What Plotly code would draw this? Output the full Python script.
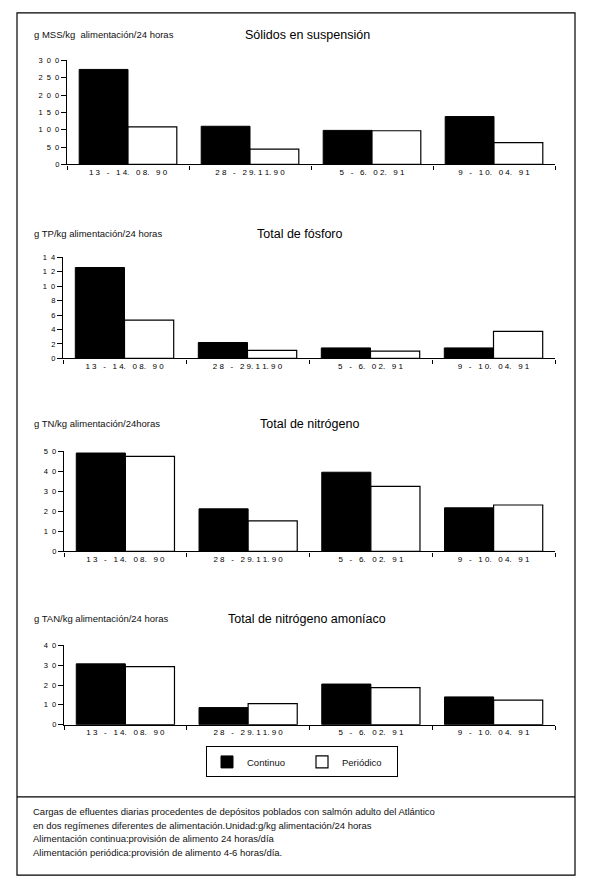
import plotly.graph_objects as go

# ---------------- data ----------------
categories = ["13 - 14.08.90", "28 - 29.11.90", "5 - 6.02.91", "9 - 10.04.91"]
category_labels = ["1 3   -   1 4.   0 8.   9 0", "2 8   -   2 9. 1 1. 9 0",
                   "5   -   6.   0 2.   9 1", "9   -   1 0.   0 4.   9 1"]

series_names = ["Continuo", "Periódico"]

mss_continuo = [274, 110, 98, 138]
mss_periodico = [108, 44, 97, 63]

tp_continuo = [12.6, 2.2, 1.45, 1.45]
tp_periodico = [5.3, 1.1, 1.0, 3.75]

tn_continuo = [49.2, 21.3, 39.6, 21.8]
tn_periodico = [47.5, 15.3, 32.5, 23.2]

tan_continuo = [30.7, 8.6, 20.5, 14.0]
tan_periodico = [29.3, 10.6, 18.7, 12.4]

panel_titles = ["Sólidos en suspensión", "Total de fósforo",
                "Total de nitrógeno", "Total de nitrógeno amoníaco"]
panel_units = ["g MSS/kg  alimentación/24 horas", "g TP/kg alimentación/24 horas",
               "g TN/kg alimentación/24horas", "g TAN/kg alimentación/24 horas"]

mss_ticks = [0, 50, 100, 150, 200, 250, 300]
mss_ticktext = ["0", "5  0", "1  0  0", "1  5  0", "2  0  0", "2  5  0", "3  0  0"]
tp_ticks = [0, 2, 4, 6, 8, 10, 12, 14]
tp_ticktext = ["0", "2", "4", "6", "8", "1  0", "1  2", "1  4"]
tn_ticks = [0, 10, 20, 30, 40, 50]
tn_ticktext = ["0", "1  0", "2  0", "3  0", "4  0", "5  0"]
tan_ticks = [0, 10, 20, 30, 40]
tan_ticktext = ["0", "1  0", "2  0", "3  0", "4  0"]

caption_lines = [
    "Cargas de efluentes diarias procedentes de depósitos poblados con salmón adulto del Atlántico",
    "en dos regímenes diferentes de alimentación.Unidad:g/kg alimentación/24 horas",
    "Alimentación continua:provisión de alimento 24 horas/día",
    "Alimentación periódica:provisión de alimento 4-6 horas/día.",
]

# ---------------- layout helpers ----------------
W, H = 600, 889
FONT = "Liberation Sans, Arial, sans-serif"


def px(x):
    return x / W


def py(y):
    return 1 - y / H


panels = [
    dict(cont=mss_continuo, per=mss_periodico, ticks=mss_ticks, ticktext=mss_ticktext,
         rng=[0, 300], x0=67, top=57, bottom=162, head_y=31, title_x=307),
    dict(cont=tp_continuo, per=tp_periodico, ticks=tp_ticks, ticktext=tp_ticktext,
         rng=[0, 14], x0=63, top=256, bottom=358, head_y=232, title_x=300),
    dict(cont=tn_continuo, per=tn_periodico, ticks=tn_ticks, ticktext=tn_ticktext,
         rng=[0, 50], x0=64, top=452, bottom=553, head_y=424, title_x=309),
    dict(cont=tan_continuo, per=tan_periodico, ticks=tan_ticks, ticktext=tan_ticktext,
         rng=[0, 40], x0=64, top=648, bottom=728, head_y=621, title_x=307),
]

fig = go.Figure()
layout = dict(
    width=W, height=H,
    margin=dict(l=0, r=0, t=0, b=0),
    paper_bgcolor="white", plot_bgcolor="white",
    barmode="group", bargap=0.2, bargroupgap=0.0,
    font=dict(family=FONT, color="#111"),
    showlegend=True,
)
annotations = []

for i, p in enumerate(panels):
    n = i + 1
    xa = "x" if n == 1 else f"x{n}"
    ya = "y" if n == 1 else f"y{n}"
    fig.add_trace(go.Bar(
        x=categories, y=p["cont"], name=series_names[0], xaxis=xa, yaxis=ya,
        marker=dict(color="black", line=dict(color="black", width=1)),
        legendgroup="c", showlegend=(n == 4),
    ))
    fig.add_trace(go.Bar(
        x=categories, y=p["per"], name=series_names[1], xaxis=xa, yaxis=ya,
        marker=dict(color="white", line=dict(color="black", width=1.2)),
        legendgroup="p", showlegend=(n == 4),
    ))
    xkey = "xaxis" if n == 1 else f"xaxis{n}"
    ykey = "yaxis" if n == 1 else f"yaxis{n}"
    layout[xkey] = dict(
        domain=[px(p["x0"]), px(555)], anchor=ya,
        type="category", categoryorder="array", categoryarray=categories,
        tickvals=categories, ticktext=category_labels,
        showline=True, linecolor="black", linewidth=1.3,
        ticks="outside", tickson="boundaries", ticklen=4, tickcolor="black",
        tickfont=dict(size=8, family=FONT, color="#000"),
        showgrid=False, zeroline=False, fixedrange=True,
    )
    layout[ykey] = dict(
        domain=[py(p["bottom"]), py(p["top"])], anchor=xa,
        range=p["rng"], tickvals=p["ticks"], ticktext=p["ticktext"],
        showline=True, linecolor="black", linewidth=1.4,
        ticks="outside", ticklen=5, tickwidth=1.3, tickcolor="black",
        tickfont=dict(size=7.5, family=FONT, color="#000"),
        showgrid=False, zeroline=False, fixedrange=True,
    )
    annotations.append(dict(
        text=panel_units[i], x=px(32), y=py(p["head_y"]), xref="paper", yref="paper",
        xanchor="left", yanchor="middle", showarrow=False,
        font=dict(size=9.5, family=FONT, color="#111"),
    ))
    annotations.append(dict(
        text=panel_titles[i], x=px(p["title_x"]), y=py(p["head_y"]), xref="paper", yref="paper",
        xanchor="center", yanchor="middle", showarrow=False,
        font=dict(size=12.5, family=FONT, color="#000"),
    ))

for j, line in enumerate(caption_lines):
    annotations.append(dict(
        text=line, x=px(31), y=py(816 + j * 13.7), xref="paper", yref="paper",
        xanchor="left", yanchor="middle", showarrow=False,
        font=dict(size=9.5, family=FONT, color="#111"),
    ))

layout["annotations"] = annotations
layout["legend"] = dict(
    orientation="h", x=px(206), y=py(750), xanchor="left", yanchor="top",
    bordercolor="black", borderwidth=1, bgcolor="white",
    font=dict(size=9.5, family=FONT, color="#111"),
    entrywidth=50, entrywidthmode="pixels", traceorder="normal",
    itemclick=False, itemdoubleclick=False,
)
layout["shapes"] = [
    dict(type="rect", xref="paper", yref="paper", x0=px(17), x1=px(575),
         y0=py(880), y1=py(9), line=dict(color="black", width=1.2)),
    dict(type="line", xref="paper", yref="paper", x0=px(17), x1=px(575),
         y0=py(801), y1=py(801), line=dict(color="black", width=1.2)),
]

fig.update_layout(**layout)
fig.write_html("out.html")
